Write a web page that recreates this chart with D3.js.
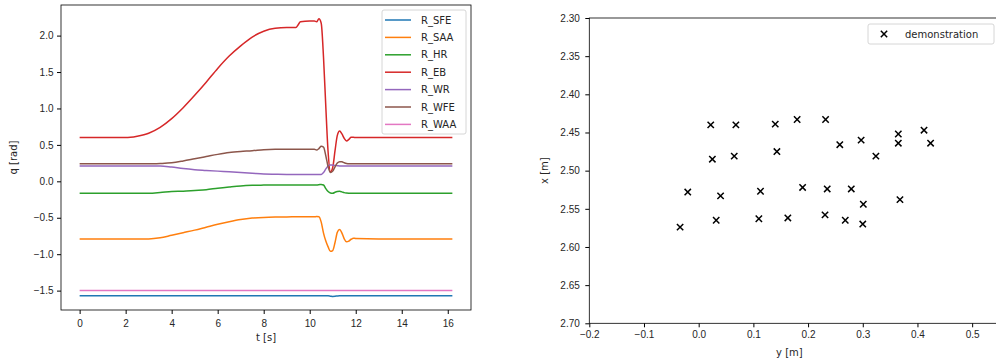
<!DOCTYPE html>
<html>
<head>
<meta charset="utf-8">
<script src="https://cdn.jsdelivr.net/npm/d3@7"></script>
<style>
  body { margin: 0; background: #fff; }
  svg { display: block; font-family: "DejaVu Sans", sans-serif; }
  .tick text { font-size: 10px; fill: #262626; }
</style>
</head>
<body>
<svg id="chart" width="996" height="360"></svg>
<script>
// joint trajectories (time in s, angles in rad)
const time  = [0, 1, 2, 2.5, 3, 3.5, 4, 4.5, 5, 5.5, 6, 6.5, 7, 7.5, 8, 8.5, 9, 9.4, 9.5, 9.6, 10, 10.2, 10.3, 10.4, 10.5, 10.6, 10.7, 10.8, 10.9, 11, 11.1, 11.2, 11.3, 11.4, 11.5, 11.6, 11.7, 11.8, 11.9, 12, 13, 14, 15, 16.2]
const R_SFE = [-1.57, -1.57, -1.57, -1.57, -1.57, -1.57, -1.57, -1.57, -1.57, -1.57, -1.57, -1.57, -1.57, -1.57, -1.57, -1.57, -1.57, -1.57, -1.57, -1.57, -1.57, -1.57, -1.57, -1.57, -1.57, -1.57, -1.57, -1.572, -1.576, -1.58, -1.578, -1.573, -1.57, -1.57, -1.57, -1.57, -1.57, -1.57, -1.57, -1.57, -1.57, -1.57, -1.57, -1.57]
const R_SAA = [-0.79, -0.79, -0.79, -0.79, -0.79, -0.775, -0.74, -0.705, -0.67, -0.63, -0.59, -0.555, -0.525, -0.505, -0.495, -0.49, -0.488, -0.487, -0.487, -0.487, -0.487, -0.487, -0.484, -0.487, -0.56, -0.71, -0.82, -0.9, -0.96, -0.95, -0.84, -0.7, -0.66, -0.71, -0.79, -0.83, -0.82, -0.795, -0.78, -0.785, -0.79, -0.79, -0.79, -0.79]
const R_HR  = [-0.165, -0.165, -0.165, -0.165, -0.165, -0.155, -0.14, -0.135, -0.125, -0.115, -0.095, -0.078, -0.063, -0.055, -0.052, -0.05, -0.05, -0.05, -0.05, -0.05, -0.05, -0.05, -0.05, -0.047, -0.042, -0.05, -0.1, -0.14, -0.16, -0.165, -0.15, -0.14, -0.137, -0.145, -0.155, -0.16, -0.163, -0.165, -0.165, -0.165, -0.165, -0.165, -0.165, -0.165]
const R_EB  = [0.6, 0.6, 0.6, 0.62, 0.66, 0.74, 0.86, 1.01, 1.18, 1.36, 1.55, 1.72, 1.86, 1.98, 2.06, 2.1, 2.11, 2.11, 2.15, 2.19, 2.2, 2.2, 2.19, 2.23, 2.17, 1.7, 1.02, 0.4, 0.13, 0.19, 0.42, 0.63, 0.69, 0.65, 0.59, 0.555, 0.575, 0.605, 0.605, 0.6, 0.6, 0.6, 0.6, 0.6]
const R_WR  = [0.21, 0.21, 0.21, 0.21, 0.21, 0.21, 0.195, 0.175, 0.16, 0.15, 0.14, 0.13, 0.12, 0.11, 0.1, 0.097, 0.095, 0.095, 0.095, 0.095, 0.095, 0.095, 0.095, 0.095, 0.095, 0.12, 0.17, 0.21, 0.225, 0.222, 0.218, 0.215, 0.212, 0.21, 0.21, 0.21, 0.21, 0.21, 0.21, 0.21, 0.21, 0.21, 0.21, 0.21]
const R_WFE = [0.24, 0.24, 0.24, 0.24, 0.24, 0.245, 0.255, 0.28, 0.31, 0.34, 0.37, 0.395, 0.41, 0.42, 0.435, 0.44, 0.44, 0.44, 0.44, 0.44, 0.44, 0.44, 0.43, 0.45, 0.48, 0.47, 0.35, 0.2, 0.12, 0.14, 0.2, 0.25, 0.27, 0.268, 0.255, 0.245, 0.24, 0.24, 0.24, 0.24, 0.24, 0.24, 0.24, 0.24]
const R_WAA = [-1.5, -1.5, -1.5, -1.5, -1.5, -1.5, -1.5, -1.5, -1.5, -1.5, -1.5, -1.5, -1.5, -1.5, -1.5, -1.5, -1.5, -1.5, -1.5, -1.5, -1.5, -1.5, -1.5, -1.5, -1.5, -1.5, -1.5, -1.5, -1.5, -1.5, -1.5, -1.5, -1.5, -1.5, -1.5, -1.5, -1.5, -1.5, -1.5, -1.5, -1.5, -1.5, -1.5, -1.5]

const jointNames = ["R_SFE", "R_SAA", "R_HR", "R_EB", "R_WR", "R_WFE", "R_WAA"]
const jointSeries = [R_SFE, R_SAA, R_HR, R_EB, R_WR, R_WFE, R_WAA]
const jointColors = ["#1f77b4", "#ff7f0e", "#2ca02c", "#d62728", "#9467bd", "#8c564b", "#e377c2"]

const tTicks = [0, 2, 4, 6, 8, 10, 12, 14, 16]
const qTicks = [-1.5, -1.0, -0.5, 0.0, 0.5, 1.0, 1.5, 2.0]

// demonstration end points: y [m], x [m]
const demoY = [0.022, 0.068, 0.140, 0.180, 0.232, 0.258, 0.297, 0.324, 0.365, 0.365, 0.412, 0.424, 0.025, 0.065, 0.143,
               -0.020, 0.040, 0.113, 0.190, 0.235, 0.279, 0.301, 0.368, -0.034, 0.032, 0.110, 0.163, 0.231, 0.268, 0.300]
const demoX = [2.440, 2.440, 2.439, 2.433, 2.433, 2.466, 2.460, 2.481, 2.452, 2.464, 2.447, 2.464, 2.485, 2.481, 2.475,
               2.528, 2.533, 2.527, 2.522, 2.524, 2.524, 2.544, 2.538, 2.574, 2.565, 2.563, 2.562, 2.558, 2.565, 2.570]
const yTicks = [-0.2, -0.1, 0.0, 0.1, 0.2, 0.3, 0.4, 0.5]
const xTicks = [2.30, 2.35, 2.40, 2.45, 2.50, 2.55, 2.60, 2.65, 2.70]

const svg = d3.select("#chart")
const textColor = "#262626"

// ---------- left panel: joint angles ----------
const L = { left: 61, right: 471, top: 5, bottom: 310 }

const t = d3.scaleLinear().domain([-0.81, 17.01]).range([L.left, L.right])
const q = d3.scaleLinear().domain([-1.766, 2.42]).range([L.bottom, L.top])

const gl = svg.append("g")

gl.append("g")
    .attr("transform", `translate(0,${L.bottom})`)
    .call(d3.axisBottom(t).tickValues(tTicks).tickFormat(d3.format("d")).tickSizeOuter(0).tickSize(4).tickPadding(5.5))

gl.append("g")
    .attr("transform", `translate(${L.left},0)`)
    .call(d3.axisLeft(q).tickValues(qTicks).tickFormat(d3.format(".1f")).tickSizeOuter(0).tickSize(4).tickPadding(3.5))

gl.selectAll(".domain").remove()

const line = d3.line()
    .x((d, i) => t(time[i]))
    .y(d => q(d))
    .curve(d3.curveMonotoneX)

gl.append("g")
    .selectAll("path")
    .data(jointSeries)
    .join("path")
    .attr("d", line)
    .attr("fill", "none")
    .attr("stroke", (d, i) => jointColors[i])
    .attr("stroke-width", 1.5)

gl.append("rect")
    .attr("x", L.left).attr("y", L.top)
    .attr("width", L.right - L.left).attr("height", L.bottom - L.top)
    .attr("fill", "none").attr("stroke", "#000").attr("stroke-width", 0.8)

gl.append("text")
    .attr("x", (L.left + L.right) / 2).attr("y", 341)
    .attr("text-anchor", "middle").attr("font-size", 10).attr("fill", textColor)
    .text("t [s]")

gl.append("text")
    .attr("transform", `translate(17,${(L.top + L.bottom) / 2}) rotate(-90)`)
    .attr("text-anchor", "middle").attr("font-size", 10).attr("fill", textColor)
    .text("q [rad]")

// legend
const legL = gl.append("g").attr("transform", "translate(382,10)")
legL.append("rect")
    .attr("width", 84).attr("height", 124).attr("rx", 2)
    .attr("fill", "#fff").attr("fill-opacity", 0.8)
    .attr("stroke", "#cccccc").attr("stroke-width", 0.8)

const legItem = legL.selectAll("g.item")
    .data(jointNames)
    .join("g")
    .attr("class", "item")
    .attr("transform", (d, i) => `translate(0,${10 + i * 17.4})`)

legItem.append("line")
    .attr("x1", 3).attr("x2", 29)
    .attr("stroke", (d, i) => jointColors[i]).attr("stroke-width", 1.5)

legItem.append("text")
    .attr("x", 39).attr("dy", "0.35em")
    .attr("font-size", 10).attr("fill", textColor)
    .text(d => d)

// ---------- right panel: demonstrations ----------
const R = { left: 589.3, right: 999.5, top: 18, bottom: 323.3 }

const y = d3.scaleLinear().domain([-0.2, 0.55]).range([R.left, R.right])
const x = d3.scaleLinear().domain([2.30, 2.70]).range([R.top, R.bottom])

const gr = svg.append("g")

gr.append("g")
    .attr("transform", `translate(0,${R.bottom})`)
    .call(d3.axisBottom(y).tickValues(yTicks).tickFormat(d3.format(".1f")).tickSizeOuter(0).tickSize(4).tickPadding(3.5))

gr.append("g")
    .attr("transform", `translate(${R.left},0)`)
    .call(d3.axisLeft(x).tickValues(xTicks).tickFormat(d3.format(".2f")).tickSizeOuter(0).tickSize(4).tickPadding(5.5))

gr.selectAll(".domain").remove()

const cross = d3.symbol().type(d3.symbolX).size(28)

gr.append("g")
    .selectAll("path")
    .data(demoY)
    .join("path")
    .attr("transform", (d, i) => `translate(${y(d)},${x(demoX[i])})`)
    .attr("d", cross)
    .attr("fill", "none")
    .attr("stroke", "#000")
    .attr("stroke-width", 1.5)

gr.append("rect")
    .attr("x", R.left).attr("y", R.top)
    .attr("width", R.right - R.left).attr("height", R.bottom - R.top)
    .attr("fill", "none").attr("stroke", "#000").attr("stroke-width", 0.8)

gr.append("text")
    .attr("x", (R.left + R.right) / 2 - 5).attr("y", 356)
    .attr("text-anchor", "middle").attr("font-size", 10).attr("fill", textColor)
    .text("y [m]")

gr.append("text")
    .attr("transform", `translate(548,${(R.top + R.bottom) / 2}) rotate(-90)`)
    .attr("text-anchor", "middle").attr("font-size", 10).attr("fill", textColor)
    .text("x [m]")

const legR = gr.append("g").attr("transform", "translate(868,24)")
legR.append("rect")
    .attr("width", 126).attr("height", 20).attr("rx", 2)
    .attr("fill", "#fff").attr("fill-opacity", 0.8)
    .attr("stroke", "#cccccc").attr("stroke-width", 0.8)
legR.append("path")
    .attr("transform", "translate(16,10)")
    .attr("d", cross)
    .attr("fill", "none").attr("stroke", "#000").attr("stroke-width", 1.5)
legR.append("text")
    .attr("x", 37).attr("y", 10).attr("dy", "0.35em")
    .attr("font-size", 10).attr("fill", textColor)
    .text("demonstration")
</script>
</body>
</html>
